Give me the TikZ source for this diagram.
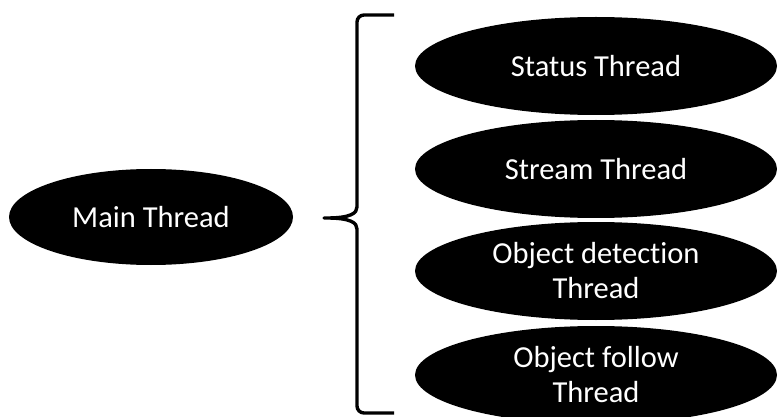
\documentclass[tikz,border=0pt]{standalone}
\usepackage{fontspec}
\setmainfont{Carlito}[Ligatures=NoCommon]
\usetikzlibrary{shapes.geometric}
\begin{document}
\begin{tikzpicture}[x=1pt,y=-1pt,
  thread/.style={ellipse,fill=black,text=white,inner sep=0pt,align=center,
    minimum width=362pt,minimum height=98pt,font=\fontsize{30.5}{35}\selectfont}]
\useasboundingbox (0,0) rectangle (777,417);

\node[thread,minimum width=284pt,minimum height=96pt] (main) at (151,217) {Main Thread};

\node[thread] (status) at (596,66) {Status Thread};
\node[thread] (stream) at (596,169) {Stream Thread};
\node[thread] (detect) at (596,271) {Object detection\\Thread};
\node[thread] (follow) at (596,375) {Object follow\\Thread};

% the brace
\coordinate (tip) at (320,218);
\draw[line width=3.4pt,line join=round,rounded corners=7pt]
  (394,15) -- (357,15) -- (357,200)
  .. controls (357,213) and (351,218) .. (tip)
  .. controls (351,218) and (357,223) .. (357,236)
  -- (357,413) -- (394,413);
\end{tikzpicture}
\end{document}
